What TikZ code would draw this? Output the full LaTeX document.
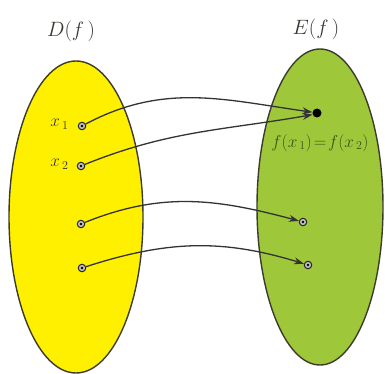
\documentclass[tikz,border=0pt]{standalone}
\usetikzlibrary{arrows.meta}
\definecolor{yel}{RGB}{255,240,0}
\definecolor{grn}{RGB}{158,200,58}
\definecolor{edge}{RGB}{60,60,45}
\definecolor{txt}{RGB}{55,55,50}
\definecolor{gtxt}{RGB}{55,85,25}
\begin{document}
\begin{tikzpicture}[x=1pt,y=-1pt,
  setshape/.style={draw=edge,line width=1.4pt},
  pt/.style={circle,draw=black!85,line width=1pt,fill=gray!50,inner sep=0pt,minimum size=7.5pt,
    path picture={\fill[black] (path picture bounding box.center) circle (1.4pt);}},
  bigdot/.style={circle,fill=black,inner sep=0pt,minimum size=9pt},
  arr/.style={draw=black!80,line width=1.3pt,-{Stealth[length=10pt,width=7pt]}},
  lab/.style={text=txt,font=\fontsize{18}{20}\selectfont},
  title/.style={text=txt,font=\fontsize{22}{24}\selectfont}]
\useasboundingbox (0,0) rectangle (385,374);
\fill[white] (0,0) rectangle (385,374);
\draw[setshape,fill=yel] (76,217) ellipse (67pt and 156pt);
\draw[setshape,fill=grn] (320,207) ellipse (63pt and 158pt);
\node[title] (D) at (71,31) {$D(f\,)$};
\node[title] (E) at (316,29) {$E(f\,)$};
\node[pt] (a1) at (82,126) {};
\node[pt] (a2) at (81,166) {};
\node[pt] (a3) at (81,224) {};
\node[pt] (a4) at (82,268) {};
\node[bigdot] (b1) at (317,113) {};
\node[pt] (b3) at (303,222) {};
\node[pt] (b4) at (308,265) {};
\node[lab,anchor=east] (l1) at (72,124) {$x_{\,1}$};
\node[lab,anchor=east] (l2) at (72,164) {$x_{\,2}$};
\node[text=gtxt,font=\fontsize{17}{19}\selectfont] (l3) at (320,143) {$f(x_{\,1})\!=\!f(x_{\,2})$};
\draw[arr] (a1) to[out=28,in=172] (b1.170);
\draw[arr] (a2) to[out=22,in=190] (b1.200);
\draw[arr] (a3) to[out=22,in=165] (b3);
\draw[arr] (a4) to[out=18,in=163] (b4);
\end{tikzpicture}
\end{document}
